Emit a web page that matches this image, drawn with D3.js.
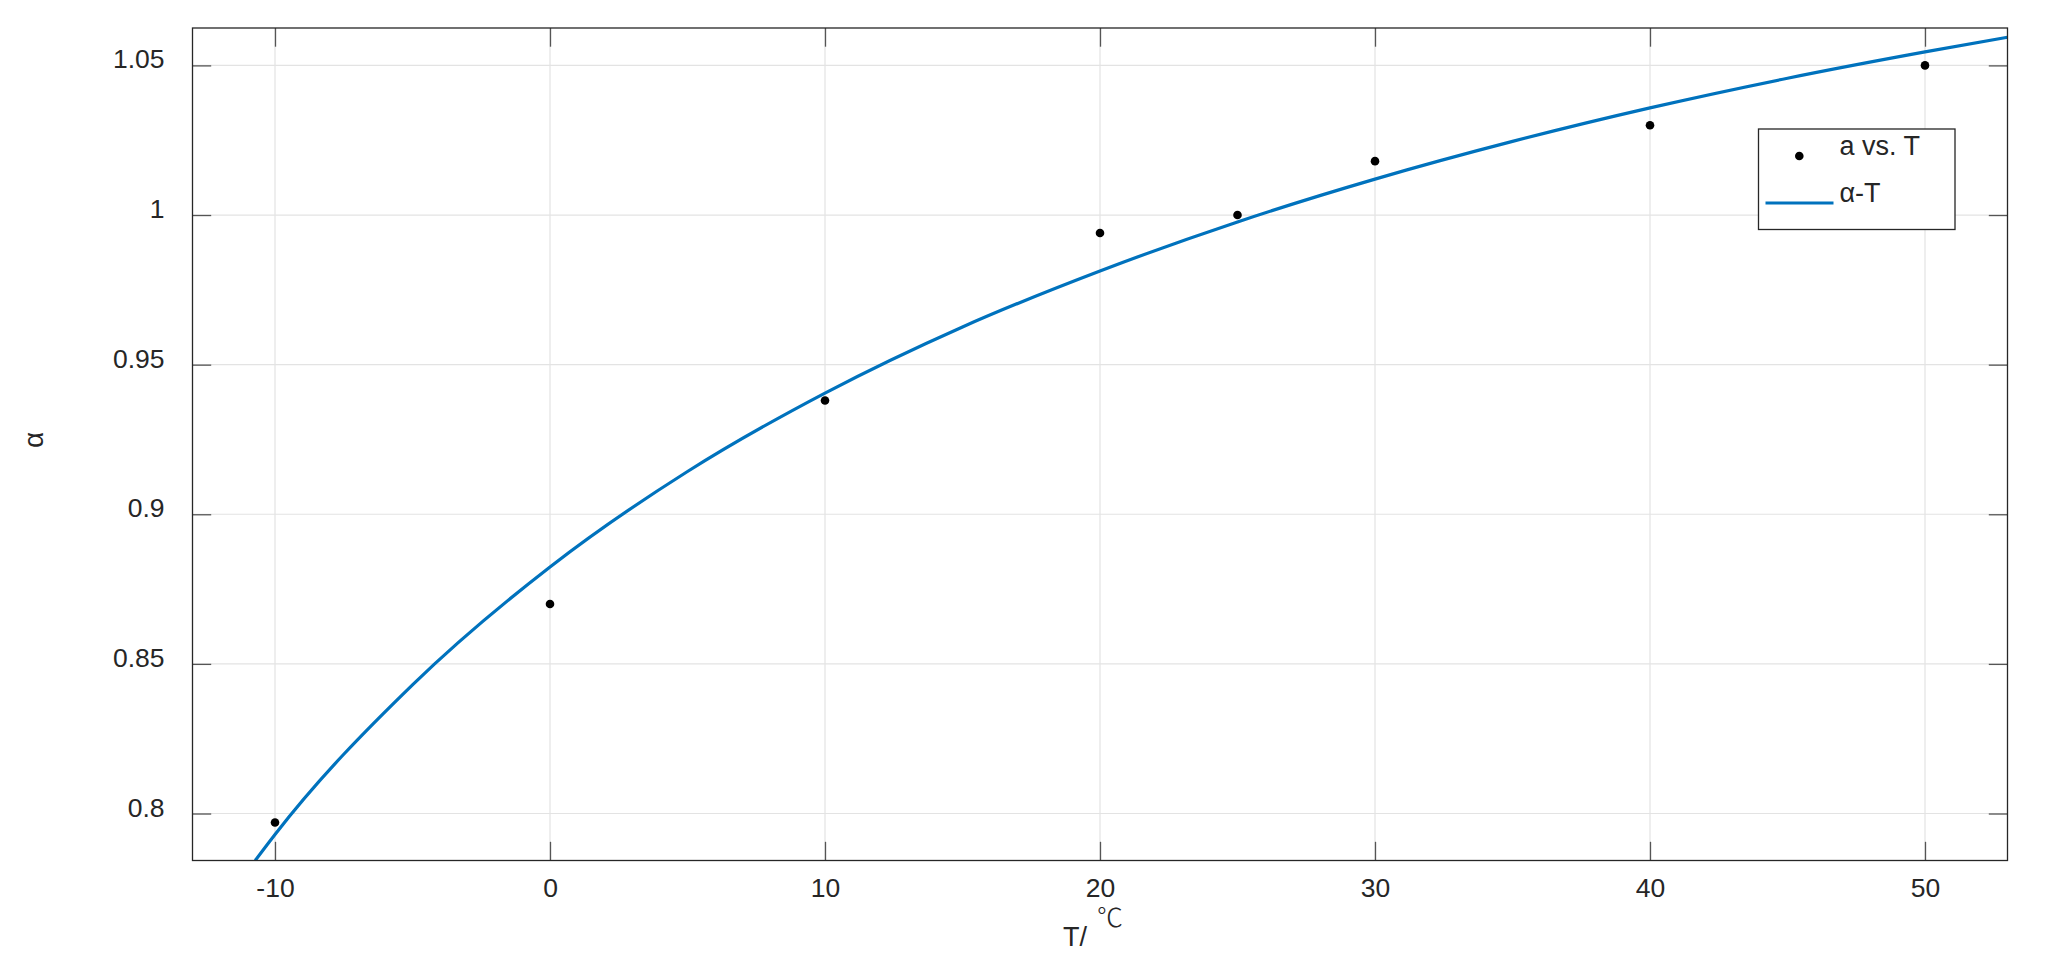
<!DOCTYPE HTML>
<html>
  <head>
    <meta charset="utf-8">
    <style>
      body { margin: 0; background: #fff; }
      text { font-family: "Liberation Sans", Arial, Helvetica, sans-serif; fill: #262626; }
    </style>
  </head>
  <body>

    <script type="text/javascript" src="https://cdn.jsdelivr.net/npm/d3@7/dist/d3.min.js"></script>

    <script>

      // *** DATA ***

      // measured points (a vs. T)
      var tempPts  = [-10, 0, 10, 20, 25, 30, 40, 50];
      var alphaPts = [0.797, 0.870, 0.938, 0.994, 1.000, 1.018, 1.030, 1.050];

      // fitted curve (alpha-T)
      var fitT     = [-10.72, -10, -5, 0, 5, 10, 15, 20, 25, 30, 35, 40, 45, 50, 53];
      var fitAlpha = [0.7843, 0.793, 0.843, 0.8824, 0.9143, 0.9405, 0.9626, 0.9813, 0.9977, 1.012, 1.0246, 1.0358, 1.0457, 1.0545, 1.0594];

      // ticks
      var xTicks = [-10, 0, 10, 20, 30, 40, 50];
      var yTicks = [0.8, 0.85, 0.9, 0.95, 1, 1.05];
      var yTickLabels = ['0.8', '0.85', '0.9', '0.95', '1', '1.05'];

      var legendLabels = ['a vs. T', 'α-T'];

      // *** LAYOUT ***

      var W = 2056, H = 978;
      var pLeft = 192.5, pRight = 2007.5, pTop = 28, pBottom = 860.5;
      var tickLen = 18.7;
      var lineBlue = '#0072BD';
      var axisCol = '#262626';

      var svg = d3.select('body').append('svg')
        .attr('width', W)
        .attr('height', H);

      var x = d3.scaleLinear().domain([-13, 53]).range([pLeft, pRight]);
      var y = d3.scaleLinear().domain([0.7843, 1.0625]).range([pBottom, pTop]);

      // grid
      var grid = svg.append('g');
      grid.selectAll('.gx').data(xTicks).enter().append('line')
        .attr('x1', function(d){ return x(d); })
        .attr('x2', function(d){ return x(d); })
        .attr('y1', pTop).attr('y2', pBottom)
        .style('stroke', '#e3e3e3').style('stroke-width', 1.2);
      grid.selectAll('.gy').data(yTicks).enter().append('line')
        .attr('y1', function(d){ return y(d); })
        .attr('y2', function(d){ return y(d); })
        .attr('x1', pLeft).attr('x2', pRight)
        .style('stroke', '#e3e3e3').style('stroke-width', 1.2);

      // axes (inward ticks on all four sides)
      function styleAxis(g) {
        g.select('.domain').remove();
        g.selectAll('.tick line').style('stroke', '#555').style('stroke-width', 1.3);
        g.selectAll('.tick text').style('font-size', '26.5px').style('fill', axisCol)
          .style('font-family', '"Liberation Sans", Arial, sans-serif');
      }

      var gx = svg.append('g')
        .attr('transform', 'translate(0,' + pBottom + ')')
        .call(d3.axisBottom(x).tickValues(xTicks).tickSizeInner(-tickLen).tickSizeOuter(0)
          .tickFormat(function(d){ return d3.format('d')(d).replace('−', '-'); }))
        .call(styleAxis);
      gx.selectAll('.tick text').attr('y', 36).attr('dy', 0);

      var gy = svg.append('g')
        .attr('transform', 'translate(' + pLeft + ',0)')
        .call(d3.axisLeft(y).tickValues(yTicks).tickSizeInner(-tickLen).tickSizeOuter(0).tickPadding(28)
          .tickFormat(function(d, i){ return yTickLabels[i]; }))
        .call(styleAxis);
      gy.selectAll('.tick text').attr('dy', 2.5);

      svg.append('g')
        .attr('transform', 'translate(0,' + pTop + ')')
        .call(d3.axisTop(x).tickValues(xTicks).tickSizeInner(-tickLen).tickSizeOuter(0).tickFormat(''))
        .call(styleAxis);

      svg.append('g')
        .attr('transform', 'translate(' + pRight + ',0)')
        .call(d3.axisRight(y).tickValues(yTicks).tickSizeInner(-tickLen).tickSizeOuter(0).tickFormat(''))
        .call(styleAxis);

      // clip
      svg.append('defs').append('clipPath').attr('id', 'plotclip')
        .append('rect')
        .attr('x', pLeft).attr('y', pTop)
        .attr('width', pRight - pLeft).attr('height', pBottom - pTop);

      // fitted curve
      var fit = fitT.map(function(t, i){ return [t, fitAlpha[i]]; });
      var line = d3.line()
        .x(function(d){ return x(d[0]); })
        .y(function(d){ return y(d[1]); })
        .curve(d3.curveMonotoneX);

      svg.append('path')
        .datum(fit)
        .attr('clip-path', 'url(#plotclip)')
        .attr('d', line)
        .style('fill', 'none')
        .style('stroke', lineBlue)
        .style('stroke-width', 3.2);

      // measured points
      svg.selectAll('.pt').data(tempPts).enter().append('circle')
        .attr('cx', function(d){ return x(d); })
        .attr('cy', function(d, i){ return y(alphaPts[i]); })
        .attr('r', 4.3)
        .style('fill', '#000');

      // frame
      svg.append('rect')
        .attr('x', pLeft).attr('y', pTop)
        .attr('width', pRight - pLeft).attr('height', pBottom - pTop)
        .style('fill', 'none').style('stroke', axisCol).style('stroke-width', 1.3);

      // axis labels
      svg.append('text')
        .attr('x', 1063).attr('y', 946)
        .style('font-size', '27px')
        .text('T/');
      svg.append('text')
        .attr('x', 1097).attr('y', 927)
        .style('font-size', '26px')
        .style('font-family', '"Noto Sans CJK SC", sans-serif')
        .style('font-weight', 300)
        .text('℃');

      svg.append('text')
        .attr('transform', 'translate(43,440) rotate(-90)')
        .attr('text-anchor', 'middle')
        .style('font-size', '28px')
        .text('α');

      // legend
      var leg = svg.append('g');
      leg.append('rect')
        .attr('x', 1758.5).attr('y', 129)
        .attr('width', 196.5).attr('height', 100.5)
        .style('fill', '#fff').style('stroke', axisCol).style('stroke-width', 1.3);
      leg.append('circle')
        .attr('cx', 1799.3).attr('cy', 156).attr('r', 4.3)
        .style('fill', '#000');
      leg.append('line')
        .attr('x1', 1765.5).attr('x2', 1833.5)
        .attr('y1', 203).attr('y2', 203)
        .style('stroke', lineBlue).style('stroke-width', 3.2);
      leg.selectAll('.lt').data(legendLabels).enter().append('text')
        .attr('x', 1839.5)
        .attr('y', function(d, i){ return i == 0 ? 155.3 : 202; })
        .style('font-size', '27px')
        .text(function(d){ return d; });

    </script>
  </body>
</html>
